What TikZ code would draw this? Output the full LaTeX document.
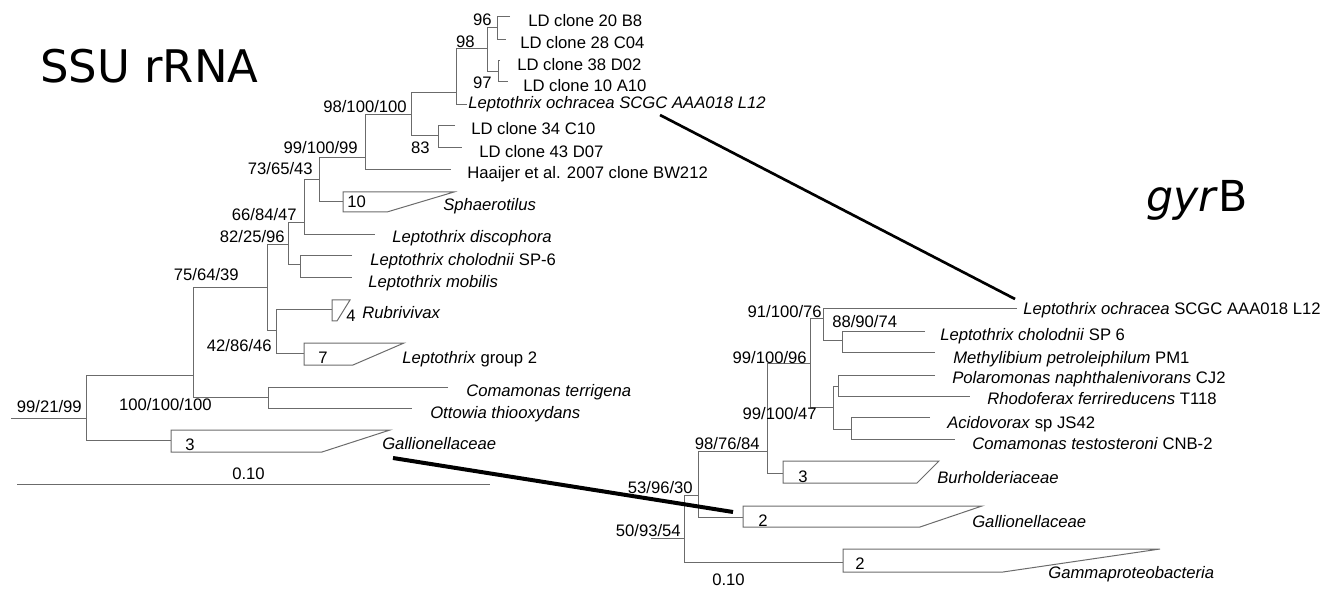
\documentclass[tikz,border=0pt]{standalone}
\usepackage{fontspec}
\setmainfont{Liberation Sans}
\newfontfamily\titlefont{DejaVu Sans}

\begin{document}
\begin{tikzpicture}[x=0.75pt,y=-0.75pt,
                    br/.style={black!58,line width=0.75pt},
                    lnk/.style={black,line width=2pt},
                    lab/.style={anchor=base west,inner sep=0pt,font=\fontsize{12.5}{15}\selectfont},
                    bs/.style={anchor=base east,inner sep=0pt,font=\fontsize{12.5}{15}\selectfont},
                    ttl/.style={anchor=base west,inner sep=0pt,font=\titlefont\fontsize{33.7}{40}\selectfont}]
  \useasboundingbox (0,0) rectangle (1337,591);
  \node[ttl] (ssu) at (40,83) {SSU rRNA};
  \node[ttl,font=\titlefont\fontsize{32}{38}\selectfont] (gyr) at (1146,212) {\textit{gyr}B};
  % SSU rRNA tree: inner nodes
  \coordinate (sr) at (11,418);
  \coordinate (s0) at (86,418);
  \coordinate (s1) at (193,375);
  \coordinate (s2) at (267,288);
  \coordinate (s3) at (288,245);
  \coordinate (s4) at (304,223);
  \coordinate (s5) at (319,180);
  \coordinate (s6) at (365,158);
  \coordinate (s7) at (411,115);
  \coordinate (s8) at (456,93);
  \coordinate (s9) at (487,49);
  \coordinate (s10) at (497,28);
  \coordinate (s11) at (498,72);
  \coordinate (s12) at (438,136);
  \coordinate (s13) at (300,265);
  \coordinate (s14) at (276,330);
  \coordinate (s15) at (268,397);
  % tips and collapsed groups
  \coordinate (t1) at (510,17);
  \coordinate (t2) at (506,40);
  \coordinate (t3) at (500,61);
  \coordinate (t4) at (508,82);
  \coordinate (t5) at (467,105);
  \coordinate (t6) at (455,126);
  \coordinate (t7) at (462,148);
  \coordinate (t8) at (451,170);
  \coordinate (t9) at (375,235);
  \coordinate (t10) at (352,256);
  \coordinate (t11) at (352,278);
  \coordinate (t12) at (448,387);
  \coordinate (t13) at (412,408);
  \coordinate (c1) at (171,440);
  \coordinate (c2) at (343,202);
  \coordinate (c3) at (332,310);
  \coordinate (c4) at (304,353);
  \draw[br] (sr) -- (s0);
  \draw[br] (s1) -| (s0 |- c1) -- (c1);
  \draw[br] (s2) -| (s1 |- s15) -- (s15);
  \draw[br] (s3) -| (s2 |- s14) -- (s14);
  \draw[br] (s4) -| (s3 |- s13) -- (s13);
  \draw[br] (s5) -| (s4 |- t9) -- (t9);
  \draw[br] (s6) -| (s5 |- c2) -- (c2);
  \draw[br] (s7) -| (s6 |- t8) -- (t8);
  \draw[br] (s8) -| (s7 |- s12) -- (s12);
  \draw[br] (s9) -| (s8 |- t5) -- (t5);
  \draw[br] (s10) -| (s9 |- s11) -- (s11);
  \draw[br] (t1) -| (s10 |- t2) -- (t2);
  \draw[br] (t3) -| (s11 |- t4) -- (t4);
  \draw[br] (t6) -| (s12 |- t7) -- (t7);
  \draw[br] (t10) -| (s13 |- t11) -- (t11);
  \draw[br] (c3) -| (s14 |- c4) -- (c4);
  \draw[br] (t12) -| (s15 |- t13) -- (t13);
  \draw[br] (171,430) -- (390,430) -- (322,452) -- (171,452) -- cycle;
  \draw[br] (343,192) -- (454,192) -- (387,212) -- (343,212) -- cycle;
  \draw[br] (332,300) -- (350,300) -- (337,321) -- (332,321) -- cycle;
  \draw[br] (304,343) -- (404,343) -- (353,365) -- (304,365) -- cycle;
  \node[lab] (n1) at (185,450) {3};
  \node[lab] (n2) at (347,208) {10};
  \node[lab] (n3) at (346,321) {4};
  \node[lab] (n4) at (318,363) {7};
  % SSU rRNA labels
  \node[lab] (l1) at (528,27) {LD clone 20 B8};
  \node[lab] (l2) at (520,49) {LD clone 28 C04};
  \node[lab] (l3) at (517,71) {LD clone 38 D02};
  \node[lab] (l4) at (523,92) {LD clone 10 A10};
  \node[lab] (l5) at (468,109) {\textit{Leptothrix ochracea SCGC AAA018 L12}};
  \node[lab] (l6) at (471,135) {LD clone 34 C10};
  \node[lab] (l7) at (479,158) {LD clone 43 D07};
  \node[lab] (l8) at (467,179) {Haaijer et al. 2007 clone BW212};
  \node[lab] (l9) at (443,211) {\textit{Sphaerotilus}};
  \node[lab] (l10) at (392,243) {\textit{Leptothrix discophora}};
  \node[lab] (l11) at (370,266) {\textit{Leptothrix cholodnii} SP-6};
  \node[lab] (l12) at (368,288) {\textit{Leptothrix mobilis}};
  \node[lab] (l13) at (362,319) {\textit{Rubrivivax}};
  \node[lab] (l14) at (402,363) {\textit{Leptothrix} group 2};
  \node[lab] (l15) at (466,396) {\textit{Comamonas terrigena}};
  \node[lab] (l16) at (430,418) {\textit{Ottowia thiooxydans}};
  \node[lab] (l17) at (382,449) {\textit{Gallionellaceae}};
  % SSU rRNA support values
  \node[bs] (b1) at (82,412) {99/21/99};
  \node[bs] (b2) at (239,281) {75/64/39};
  \node[bs] (b3) at (212,410) {100/100/100};
  \node[bs] (b4) at (285,243) {82/25/96};
  \node[bs] (b5) at (297,221) {66/84/47};
  \node[bs] (b6) at (313,175) {73/65/43};
  \node[bs] (b7) at (358,154) {99/100/99};
  \node[bs] (b8) at (407,113) {98/100/100};
  \node[bs] (b9) at (475,48) {98};
  \node[bs] (b10) at (492,26) {96};
  \node[bs] (b11) at (492,89) {97};
  \node[bs] (b12) at (430,154) {83};
  \node[bs] (b13) at (272,351) {42/86/46};
  % scale bar
  \coordinate (sb1) at (17,484);
  \coordinate (sb2) at (490,484);
  \draw[br] (sb1) -- (sb2);
  \node[lab] (sbl) at (232,479) {0.10};
  % gyrB tree: inner nodes
  \coordinate (gr) at (651,538);
  \coordinate (g0) at (684,538);
  \coordinate (g1) at (698,495);
  \coordinate (g2) at (767,451);
  \coordinate (g3) at (810,363);
  \coordinate (g4) at (823,319);
  \coordinate (g5) at (842,340);
  \coordinate (g6) at (833,407);
  \coordinate (g7) at (838,386);
  \coordinate (g8) at (851,429);
  % tips and collapsed groups
  \coordinate (u1) at (1017,309);
  \coordinate (u2) at (925,331);
  \coordinate (u3) at (935,352);
  \coordinate (u4) at (935,375);
  \coordinate (u5) at (970,396);
  \coordinate (u6) at (930,417);
  \coordinate (u7) at (955,439);
  \coordinate (d1) at (783,473);
  \coordinate (d2) at (743,517);
  \coordinate (d3) at (843,562);
  \draw[br] (gr) -- (g0);
  \draw[br] (g1) -| (g0 |- d3) -- (d3);
  \draw[br] (g2) -| (g1 |- d2) -- (d2);
  \draw[br] (g3) -| (g2 |- d1) -- (d1);
  \draw[br] (g4) -| (g3 |- g6) -- (g6);
  \draw[br] (u1) -| (g4 |- g5) -- (g5);
  \draw[br] (u2) -| (g5 |- u3) -- (u3);
  \draw[br] (g7) -| (g6 |- g8) -- (g8);
  \draw[br] (u4) -| (g7 |- u5) -- (u5);
  \draw[br] (u6) -| (g8 |- u7) -- (u7);
  \draw[br] (783,461) -- (939,461) -- (917,483) -- (783,483) -- cycle;
  \draw[br] (743,506) -- (982,506) -- (920,527) -- (743,527) -- cycle;
  \draw[br] (843,549) -- (1160,549) -- (1003,572) -- (843,572) -- cycle;
  \node[lab] (m1) at (798,482) {3};
  \node[lab] (m2) at (758,526) {2};
  \node[lab] (m3) at (855,569) {2};
  % gyrB labels
  \node[lab] (k1) at (1023,315) {\textit{Leptothrix ochracea} SCGC AAA018 L12};
  \node[lab] (k2) at (940,340) {\textit{Leptothrix cholodnii} SP 6};
  \node[lab] (k3) at (953,363) {\textit{Methylibium petroleiphilum} PM1};
  \node[lab] (k4) at (952,383) {\textit{Polaromonas naphthalenivorans} CJ2};
  \node[lab] (k5) at (987,404) {\textit{Rhodoferax ferrireducens} T118};
  \node[lab] (k6) at (947,428) {\textit{Acidovorax} sp JS42};
  \node[lab] (k7) at (972,449) {\textit{Comamonas testosteroni} CNB-2};
  \node[lab] (k8) at (937,483) {\textit{Burholderiaceae}};
  \node[lab] (k9) at (972,527) {\textit{Gallionellaceae}};
  \node[lab] (k10) at (1048,578) {\textit{Gammaproteobacteria}};
  % gyrB support values
  \node[bs] (v1) at (822,318) {91/100/76};
  \node[lab] (v2) at (832,328) {88/90/74};
  \node[bs] (v3) at (807,363) {99/100/96};
  \node[bs] (v4) at (817,419) {99/100/47};
  \node[bs] (v5) at (760,449) {98/76/84};
  \node[bs] (v6) at (693,493) {53/96/30};
  \node[bs] (v7) at (681,536) {50/93/54};
  \node[lab] (gsc) at (712,585) {0.10};
  % links between the two trees
  \coordinate (e1) at (660,115);
  \coordinate (e2) at (1015,299);
  \coordinate (e3) at (393,458);
  \coordinate (e4) at (733,512);
  \draw[lnk] (e1) -- (e2);
  \draw[lnk,line width=3pt] (e3) -- (e4);
\end{tikzpicture}
\end{document}
